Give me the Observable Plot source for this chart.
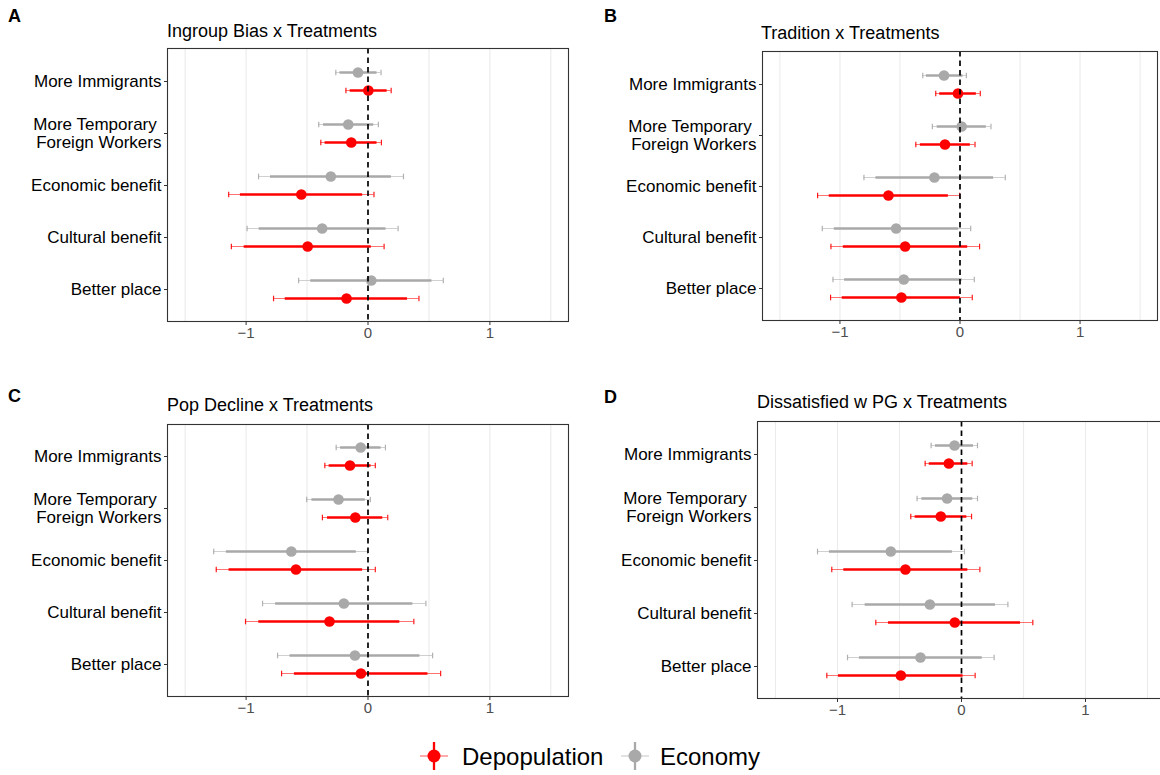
<!DOCTYPE html>
<html>
<head>
<meta charset="utf-8">
<script src="https://cdn.jsdelivr.net/npm/d3@7"></script>
<script src="https://cdn.jsdelivr.net/npm/@observablehq/plot@0.6"></script>
<style>
  html, body { margin: 0; padding: 0; background: #fff; overflow: hidden; }
  body { width: 1160px; height: 775px; position: relative; font-family: "Liberation Sans", Arial, Helvetica, sans-serif; }
  .abs { position: absolute; }
  .title { font-size: 18px; line-height: 18px; color: #000; white-space: nowrap; }
  .letter { font-size: 18px; line-height: 18px; font-weight: bold; color: #000; }
  .legtext { font-size: 24px; line-height: 24px; color: #000; white-space: nowrap; }
  svg { overflow: visible; }
</style>
</head>
<body>
<script>
// ---------- data ----------
const categories = ["More Immigrants", "More Temporary\u00a0\nForeign Workers", "Economic benefit", "Cultural benefit", "Better place"];
const series = ["Depopulation", "Economy"];
const seriesColors = ["#FF0000", "#A9A9A9"];
const panelTitles = ["Ingroup Bias x Treatments", "Tradition x Treatments", "Pop Decline x Treatments", "Dissatisfied w PG x Treatments"];
const panelLetters = ["A", "B", "C", "D"];
const xTicks = [-1, 0, 1];
const gridValues = [-1.5, -1, -0.5, 0.5, 1, 1.5];

// each row: [estimate, low95, low90, high90, high95], one row per category
const A_dep = [[0.003, -0.181, -0.146, 0.157, 0.190], [-0.137, -0.387, -0.352, 0.074, 0.110], [-0.547, -1.143, -1.047, -0.044, 0.049], [-0.495, -1.121, -1.016, 0.027, 0.132], [-0.176, -0.775, -0.679, 0.324, 0.418]];
const A_eco = [[-0.082, -0.264, -0.230, 0.074, 0.107], [-0.162, -0.404, -0.365, 0.047, 0.085], [-0.305, -0.898, -0.800, 0.192, 0.291], [-0.376, -0.992, -0.893, 0.148, 0.247], [0.027, -0.569, -0.470, 0.525, 0.618]];
const B_dep = [[-0.017, -0.202, -0.169, 0.136, 0.169], [-0.125, -0.368, -0.330, 0.086, 0.125], [-0.596, -1.186, -1.089, -0.097, -0.003], [-0.457, -1.075, -0.972, 0.064, 0.163], [-0.488, -1.078, -0.981, 0.003, 0.102]];
const B_eco = [[-0.133, -0.310, -0.280, 0.025, 0.053], [0.014, -0.230, -0.190, 0.219, 0.258], [-0.213, -0.800, -0.700, 0.280, 0.377], [-0.532, -1.147, -1.047, -0.011, 0.089], [-0.468, -1.058, -0.961, 0.019, 0.119]];
const C_dep = [[-0.148, -0.354, -0.319, 0.025, 0.060], [-0.104, -0.374, -0.332, 0.121, 0.162], [-0.591, -1.245, -1.140, -0.044, 0.060], [-0.316, -1.005, -0.896, 0.261, 0.376], [-0.058, -0.709, -0.604, 0.492, 0.596]];
const C_eco = [[-0.060, -0.261, -0.225, 0.107, 0.143], [-0.242, -0.503, -0.460, -0.022, 0.019], [-0.629, -1.266, -1.162, -0.096, -0.003], [-0.198, -0.865, -0.758, 0.368, 0.475], [-0.107, -0.742, -0.640, 0.426, 0.530]];
const D_dep = [[-0.102, -0.293, -0.260, 0.051, 0.086], [-0.167, -0.409, -0.374, 0.043, 0.081], [-0.452, -1.046, -0.949, 0.051, 0.148], [-0.054, -0.691, -0.589, 0.476, 0.575], [-0.489, -1.086, -0.992, 0.013, 0.110]];
const D_eco = [[-0.056, -0.245, -0.210, 0.097, 0.129], [-0.116, -0.358, -0.320, 0.091, 0.129], [-0.570, -1.161, -1.065, -0.073, 0.024], [-0.255, -0.882, -0.777, 0.274, 0.374], [-0.331, -0.919, -0.823, 0.167, 0.263]];

// ---------- layout ----------
const layout = [
  {dep: A_dep, eco: A_eco, left: 0,   top: 0,   width: 580, height: 345, mL: 167, mR: 12, mT: 48, mB: 24,
   titleX: 167, titleY: 22, letterX: 8, letterY: 7},
  {dep: B_dep, eco: B_eco, left: 580, top: 0,   width: 580, height: 345, mL: 182, mR: 3,  mT: 51, mB: 25,
   titleX: 761, titleY: 24, letterX: 604, letterY: 7},
  {dep: C_dep, eco: C_eco, left: 0,   top: 360, width: 580, height: 360, mL: 167, mR: 12, mT: 64, mB: 24,
   titleX: 167, titleY: 396, letterX: 8, letterY: 387},
  {dep: D_dep, eco: D_eco, left: 580, top: 360, width: 588, height: 360, mL: 177, mR: 3,  mT: 61, mB: 22,
   titleX: 757, titleY: 393, letterX: 604, letterY: 388}
];

function rowsFor(dep, eco) {
  const rows = [];
  categories.forEach((c, i) => {
    [[eco, series[1], -9], [dep, series[0], 9]].forEach(([arr, s, off]) => {
      const v = arr[i];
      rows.push({cat: c, series: s, off, est: v[0], lo95: v[1], lo90: v[2], hi90: v[3], hi95: v[4]});
    });
  });
  return rows;
}

// vertical end-cap glyph for error bars
const capSymbol = { draw(ctx) { ctx.moveTo(0, -2.8); ctx.lineTo(0, 2.8); } };
const fmtTick = d => (d < 0 ? "\u2212" : "") + Math.abs(d);

function makePanel(p) {
  const rows = rowsFor(p.dep, p.eco);
  const byOff = off => rows.filter(r => r.off === off);
  const marks = [
    Plot.ruleX(gridValues, {stroke: "#ebebeb", strokeWidth: 1.1}),
  ];
  for (const off of [-9, 9]) {
    const data = byOff(off);
    const col = off < 0 ? seriesColors[1] : seriesColors[0];
    marks.push(
      Plot.ruleY(data, {y: "cat", x1: "lo95", x2: "hi95", dy: off, stroke: col, strokeWidth: 1.2, strokeOpacity: 0.55}),
      Plot.dot(data, {x: "lo95", y: "cat", dy: off, symbol: capSymbol, r: 3, fill: "none", stroke: col, strokeWidth: 1.2, strokeOpacity: 0.9}),
      Plot.dot(data, {x: "hi95", y: "cat", dy: off, symbol: capSymbol, r: 3, fill: "none", stroke: col, strokeWidth: 1.2, strokeOpacity: 0.9}),
      Plot.ruleY(data, {y: "cat", x1: "lo90", x2: "hi90", dy: off, stroke: col, strokeWidth: 2.3}),
      Plot.dot(data, {x: "est", y: "cat", dy: off, r: 5.3, fill: col, stroke: "none"})
    );
  }
  marks.push(
    Plot.ruleX([0], {stroke: "#000", strokeWidth: 1.7, strokeDasharray: "5.5,4"}),
    Plot.axisY({tickSize: 3, tickPadding: 3, fontSize: 17, color: "#000", stroke: "#333", lineHeight: 1.06}),
    Plot.axisX({ticks: xTicks, tickFormat: fmtTick, tickSize: 4, tickPadding: 2, fontSize: 15, color: "#4d4d4d", stroke: "#333"}),
    Plot.frame({stroke: "#333", strokeWidth: 1.1})
  );
  const chart = Plot.plot({
    width: p.width, height: p.height,
    marginLeft: p.mL, marginRight: p.mR, marginTop: p.mT, marginBottom: p.mB,
    style: {fontFamily: "'Liberation Sans', Arial, Helvetica, sans-serif", background: "transparent", overflow: "visible", maxWidth: "none"},
    x: {domain: [-1.645, 1.645], label: null},
    y: {type: "point", domain: categories, padding: 0.6, label: null},
    marks
  });
  const div = document.createElement("div");
  div.className = "abs";
  div.style.left = p.left + "px";
  div.style.top = p.top + "px";
  div.style.width = p.width + "px";
  div.appendChild(chart);
  document.body.appendChild(div);
}

layout.forEach((p, i) => {
  makePanel(p);
  const t = document.createElement("div");
  t.className = "abs title";
  t.style.left = p.titleX + "px";
  t.style.top = p.titleY + "px";
  t.textContent = panelTitles[i];
  document.body.appendChild(t);
  const l = document.createElement("div");
  l.className = "abs letter";
  l.style.left = p.letterX + "px";
  l.style.top = p.letterY + "px";
  l.textContent = panelLetters[i];
  document.body.appendChild(l);
});

// ---------- legend ----------
const legendItems = [
  {name: series[0], color: seriesColors[0], glyphX: 434, textX: 462},
  {name: series[1], color: seriesColors[1], glyphX: 635, textX: 660}
];
legendItems.forEach(it => {
  const svg = d3.create("svg").attr("width", 32).attr("height", 32)
    .style("position", "absolute").style("left", (it.glyphX - 16) + "px").style("top", (756 - 16) + "px");
  svg.append("line").attr("x1", 2).attr("x2", 30).attr("y1", 16).attr("y2", 16)
    .attr("stroke", it.color).attr("stroke-width", 1.2).attr("stroke-opacity", 0.55);
  svg.append("line").attr("x1", 16).attr("x2", 16).attr("y1", 2).attr("y2", 30)
    .attr("stroke", it.color).attr("stroke-width", 2.3);
  svg.append("circle").attr("cx", 16).attr("cy", 16).attr("r", 6.5).attr("fill", it.color);
  document.body.appendChild(svg.node());
  const t = document.createElement("div");
  t.className = "abs legtext";
  t.style.left = it.textX + "px";
  t.style.top = "745px";
  t.textContent = it.name;
  document.body.appendChild(t);
});
</script>
</body>
</html>
